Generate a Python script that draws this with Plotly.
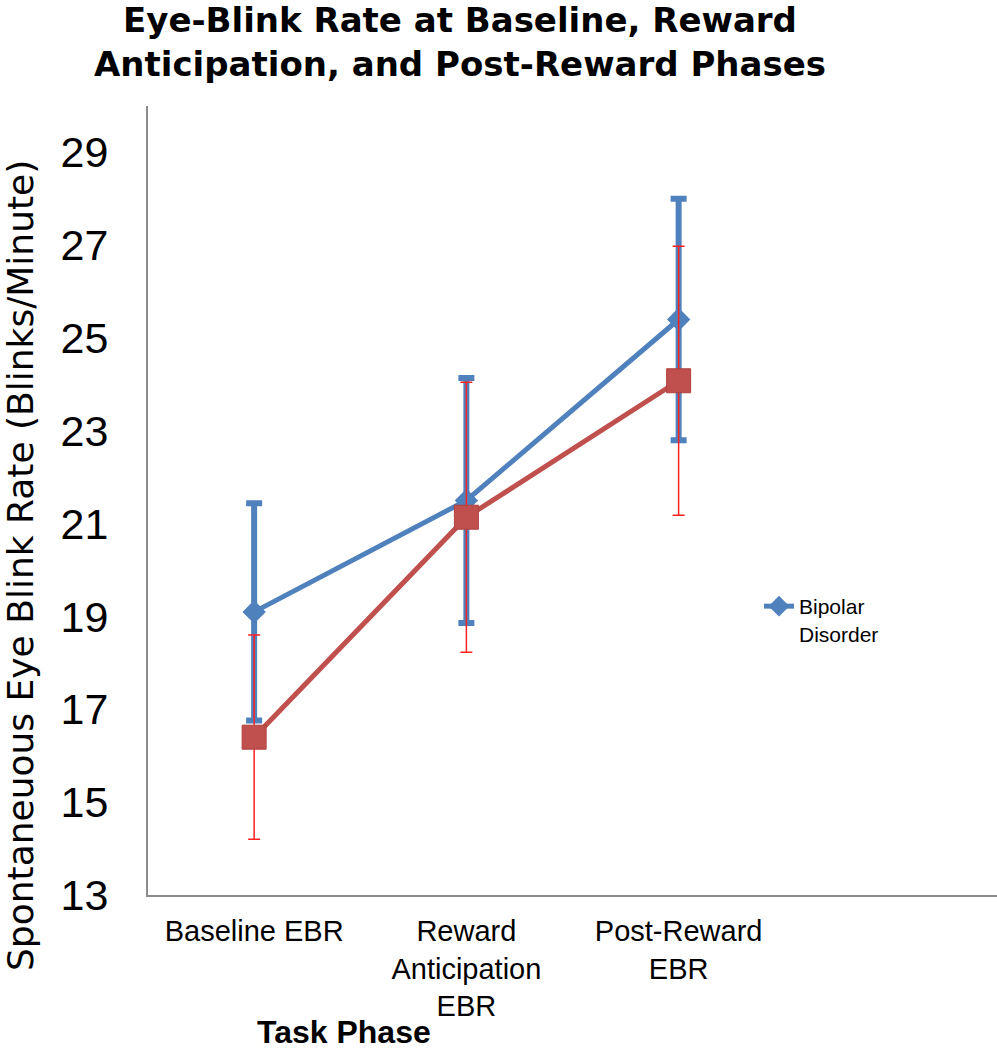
import plotly.graph_objects as go

categories = ["Baseline EBR", "Reward<br>Anticipation<br>EBR", "Post-Reward<br>EBR"]

bipolar_mean = [19.1, 21.5, 25.4]
bipolar_err = [2.34, 2.64, 2.6]

control_mean = [16.4, 21.14, 24.08]
control_err = [2.2, 2.91, 2.9]

y_ticks = [13, 15, 17, 19, 21, 23, 25, 27, 29]

BLUE = "#4F81BD"
RED = "#C0504D"

fig = go.Figure()

fig.add_trace(go.Scatter(
    x=categories, y=bipolar_mean, name="Bipolar<br>Disorder",
    mode="lines+markers",
    line=dict(color=BLUE, width=5),
    marker=dict(symbol="diamond", size=18, color=BLUE),
    error_y=dict(type="data", array=bipolar_err, visible=True,
                 color=BLUE, thickness=6, width=8),
    showlegend=True,
))

fig.add_trace(go.Scatter(
    x=categories, y=control_mean, name="Control",
    mode="lines+markers",
    line=dict(color=RED, width=5),
    marker=dict(symbol="square", size=24, color=RED,
                line=dict(color="#B0403D", width=1)),
    error_y=dict(type="data", array=control_err, visible=True,
                 color="#FF2020", thickness=1.5, width=6),
    showlegend=False,
))

fig.update_layout(
    width=997, height=1050,
    margin=dict(l=148, r=0, t=106, b=155),
    paper_bgcolor="white", plot_bgcolor="white",
    title=dict(
        text="Eye-Blink Rate at Baseline, Reward<br>Anticipation, and Post-Reward Phases",
        font=dict(family="DejaVu Sans", size=34, color="black", weight="bold"),
        x=460 / 997, xanchor="center", xref="container",
        y=1 - 32 / 1050, yanchor="top", yref="container",
        pad=dict(t=0, b=0),
    ),
    xaxis=dict(
        range=[-0.5, 3.5],
        showline=True, linecolor="#8c8c8c", linewidth=2,
        showgrid=False, zeroline=False, ticks="",
        tickfont=dict(family="Liberation Sans", size=29, color="black"),
        ticklabelstandoff=9,
    ),
    yaxis=dict(
        range=[13, 30],
        tickvals=y_ticks,
        showline=True, linecolor="#8c8c8c", linewidth=2,
        showgrid=False, zeroline=False, ticks="",
        tickfont=dict(family="Liberation Sans", size=43, color="black"),
        ticklabelstandoff=29,
    ),
    legend=dict(
        x=(759 - 148) / 849, y=(895 - 586) / 789,
        xanchor="left", yanchor="top", valign="top",
        font=dict(family="Liberation Sans", size=21, color="black"),
        bgcolor="rgba(0,0,0,0)",
    ),
    annotations=[
        dict(text="Spontaneuous Eye Blink Rate (Blinks/Minute)",
             xref="paper", yref="paper",
             x=(20 - 148) / 849, y=(895 - 566) / 789,
             xanchor="center", yanchor="middle",
             textangle=-90, showarrow=False,
             font=dict(family="DejaVu Sans", size=36, color="black")),
        dict(text="<b>Task Phase</b>",
             xref="paper", yref="paper",
             x=(344 - 148) / 849, y=(895 - 1032) / 789,
             xanchor="center", yanchor="middle",
             showarrow=False,
             font=dict(family="Liberation Sans", size=32, color="black")),
    ],
)

fig.write_html(
    "out.html",
    config={"displayModeBar": False},
    post_script="document.body.style.margin='0';document.body.style.overflow='hidden';",
)
